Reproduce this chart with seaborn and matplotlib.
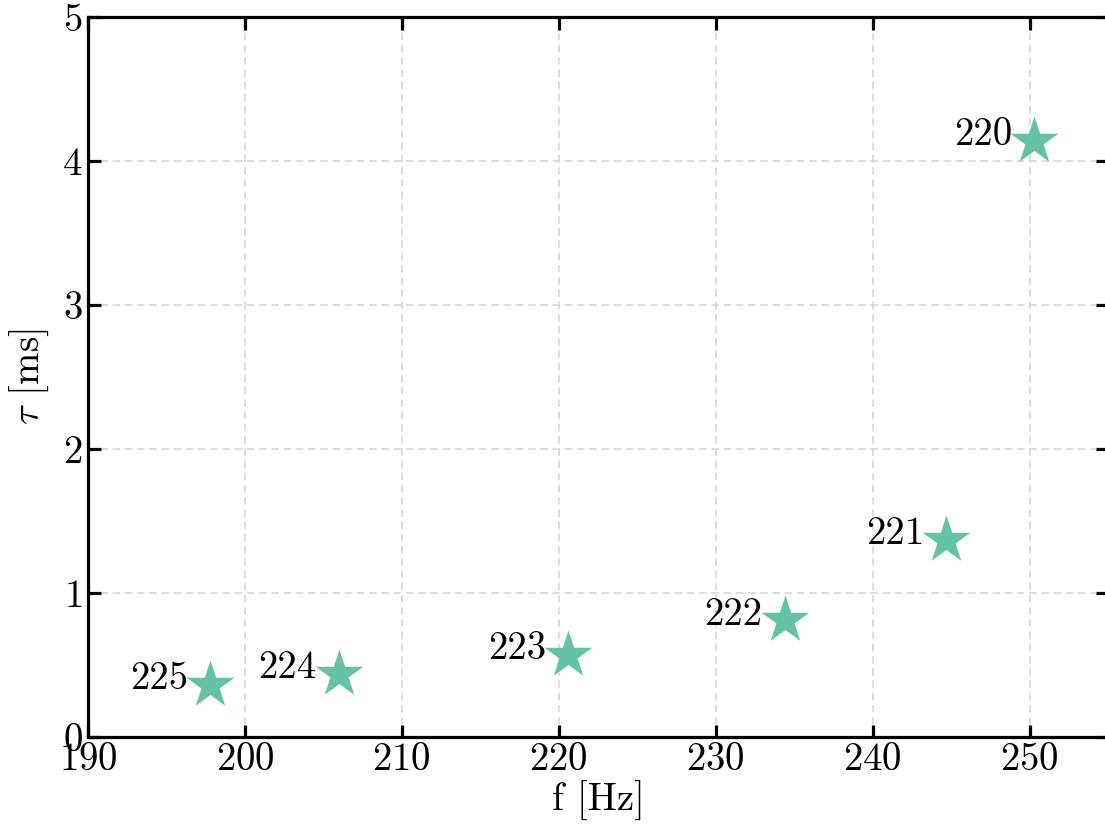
import numpy as np
import pandas as pd
import seaborn as sns
import matplotlib.pyplot as plt

# Mode frequencies / damping times
labels = ['225', '224', '223', '222', '221', '220']
freq = [197.8, 206.0, 220.6, 234.4, 244.7, 250.3]
tau = [0.36, 0.44, 0.57, 0.81, 1.37, 4.14]

df = pd.DataFrame({'f': freq, 'tau': tau, 'label': labels})

sns.set_style('ticks')
plt.rcParams['font.family'] = ['cmr10', 'DejaVu Serif']
plt.rcParams['mathtext.fontset'] = 'cm'
plt.rcParams['axes.formatter.use_mathtext'] = True
plt.rcParams['axes.unicode_minus'] = False
for k in ['text.color', 'axes.labelcolor', 'xtick.color', 'ytick.color',
          'axes.edgecolor']:
    plt.rcParams[k] = 'black'

fs = 28
color = sns.color_palette('Set2')[0]

fig = plt.figure(figsize=(11.05, 8.3), dpi=100)
ax = fig.add_axes([88 / 1105, 93 / 830, 1020 / 1105, 720 / 830])

sns.scatterplot(data=df, x='f', y='tau', marker='*', s=1300, color=color,
                linewidth=0, ax=ax, zorder=3)

for _, r in df.iterrows():
    ax.annotate(r['label'], (r['f'], r['tau']), xytext=(-16, -3),
                textcoords='offset points', ha='right', va='baseline',
                fontsize=fs)

ax.set_xlim(190, 255)
ax.set_ylim(0, 5)
ax.set_xticks(range(190, 251, 10))
ax.set_yticks(range(0, 6))
ax.grid(True, linestyle='--', color='#d5d5d5', linewidth=1.1, dashes=(5, 3))
ax.set_axisbelow(True)

for sp in ax.spines.values():
    sp.set_linewidth(2.3)
    sp.set_visible(True)
ax.tick_params(direction='in', length=9, width=2.3, labelsize=fs,
               top=True, right=True, pad=4)

ax.set_xlabel('f [Hz]', fontsize=fs, labelpad=2)
ax.set_ylabel(r'$\tau$ [ms]', fontsize=fs, labelpad=8)

fig.savefig('out.png', dpi=100)
